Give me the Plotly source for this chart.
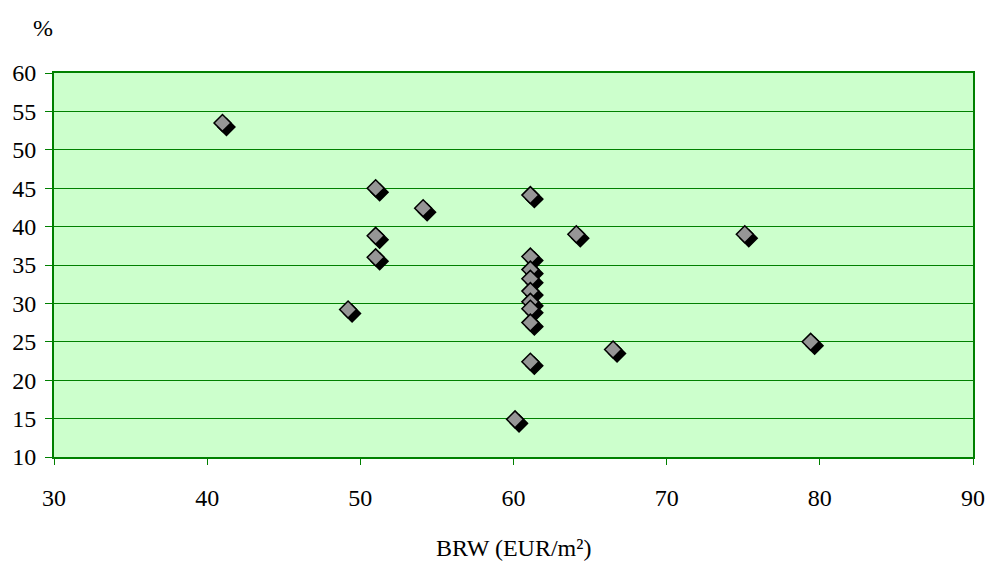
import plotly.graph_objects as go

# Data (BRW in EUR/m², share in %)
brw = [41.0, 51.0, 54.1, 51.0, 51.0, 49.2, 61.1, 61.1, 61.1, 61.1, 61.1, 61.1,
       61.1, 61.1, 61.1, 60.1, 64.1, 66.5, 75.1, 79.4]
pct = [53.5, 45.0, 42.4, 38.8, 36.0, 29.2, 44.1, 36.1, 34.4, 33.2, 31.6, 30.2,
       29.3, 27.5, 22.4, 14.9, 39.0, 24.0, 39.0, 25.0]

x_ticks = [30, 40, 50, 60, 70, 80, 90]
y_ticks = [10, 15, 20, 25, 30, 35, 40, 45, 50, 55, 60]

x_range = [30, 90]
y_range = [10, 60]

W, H = 987, 569
ML, MR, MT, MB = 54, 14, 73, 112
pw = W - ML - MR
ph = H - MT - MB
# shadow offset in pixels converted to axis units
sdx = 4 * (x_range[1] - x_range[0]) / pw
sdy = 4 * (y_range[1] - y_range[0]) / ph

GREEN = "#008000"
FONT = "Times New Roman"
TF = dict(family=FONT, size=24, color="black")

fig = go.Figure()
# invisible trace to anchor the main axes
fig.add_trace(go.Scatter(x=brw, y=pct, mode="markers",
                         marker=dict(opacity=0), hoverinfo="skip",
                         showlegend=False))
# shadow trace on shifted overlay axes
fig.add_trace(go.Scatter(
    x=brw, y=pct, mode="markers", xaxis="x2", yaxis="y2",
    marker=dict(symbol="diamond", size=13, color="black",
                line=dict(color="black", width=1.5)),
    hoverinfo="skip", showlegend=False))
fig.add_trace(go.Scatter(
    x=brw, y=pct, mode="markers", xaxis="x3", yaxis="y3",
    marker=dict(symbol="diamond", size=13, color="#969696",
                line=dict(color="black", width=1.5)),
    showlegend=False))

fig.update_layout(
    width=W, height=H,
    margin=dict(l=ML, r=MR, t=MT, b=MB, autoexpand=False),
    paper_bgcolor="white",
    plot_bgcolor="#CCFFCC",
    font=TF,
    xaxis=dict(range=x_range, tickvals=x_ticks, ticks="outside", ticklen=6,
               tickcolor=GREEN, showgrid=False, zeroline=False,
               showline=True, linecolor=GREEN, linewidth=2, mirror=True,
               ticklabelstandoff=12, tickfont=TF, automargin=False),
    yaxis=dict(range=y_range, tickvals=y_ticks, ticks="outside", ticklen=7,
               tickcolor=GREEN, showgrid=True, gridcolor=GREEN, gridwidth=1,
               zeroline=False, showline=True, linecolor=GREEN, linewidth=2,
               mirror=True, ticklabelstandoff=4, tickfont=TF,
               automargin=False),
    xaxis2=dict(range=[x_range[0] - sdx, x_range[1] - sdx], overlaying="x",
                visible=False),
    yaxis2=dict(range=[y_range[0] + sdy, y_range[1] + sdy], overlaying="y",
                visible=False),
    xaxis3=dict(range=x_range, overlaying="x", visible=False),
    yaxis3=dict(range=y_range, overlaying="y", visible=False),
    annotations=[
        dict(text="%", xref="paper", yref="paper", x=-0.012, y=1.0,
             yshift=45, showarrow=False, xanchor="center", yanchor="middle",
             font=TF),
        dict(text="BRW (EUR/m²)", xref="paper", yref="paper", x=0.5,
             y=0, yshift=-91, showarrow=False, xanchor="center",
             yanchor="middle", font=TF),
    ],
)

fig.write_html("out.html")
